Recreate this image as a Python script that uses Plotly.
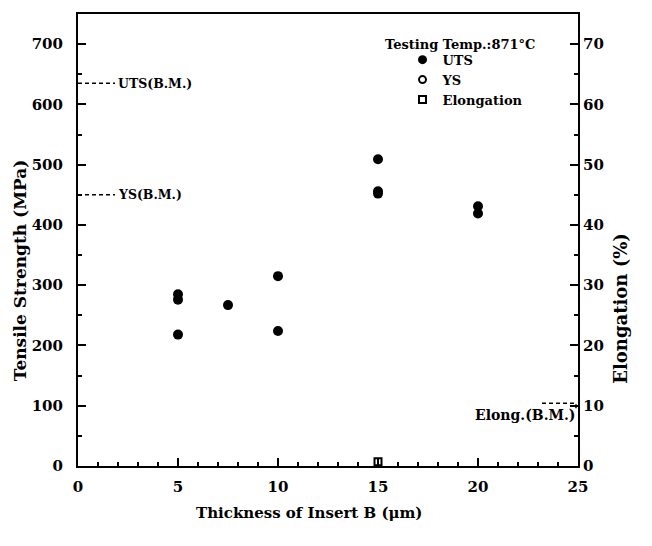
import plotly.graph_objects as go

# ---- data ----
uts_thickness = [5, 5, 7.5, 10, 15, 15, 20]
uts_mpa = [285, 276, 267, 315, 509, 456, 431]
ys_thickness = [5, 10, 15, 20]
ys_mpa = [218, 224, 452, 419]
elong_thickness = [15]
elong_pct = [0.7]

uts_bm = 635
ys_bm = 450
elong_bm = 10.4

x_ticks = [0, 5, 10, 15, 20, 25]
y_ticks = [0, 100, 200, 300, 400, 500, 600, 700]
y2_ticks = [0, 10, 20, 30, 40, 50, 60, 70]

FONT = "DejaVu Serif"
BLACK = "#000000"

fig = go.Figure()

# data (all plotted as filled dots, as they appear in the scan)
fig.add_trace(go.Scatter(x=uts_thickness, y=uts_mpa, mode="markers",
                         marker=dict(symbol="circle", size=10, color=BLACK),
                         showlegend=False, name="UTS"))
fig.add_trace(go.Scatter(x=ys_thickness, y=ys_mpa, mode="markers",
                         marker=dict(symbol="circle", size=10, color=BLACK),
                         showlegend=False, name="YS"))
fig.add_trace(go.Scatter(x=elong_thickness, y=elong_pct, mode="markers", yaxis="y2",
                         marker=dict(symbol="square-open", size=7, color=BLACK,
                                     line=dict(width=2, color=BLACK)),
                         showlegend=False, name="Elongation"))

# legend entries
fig.add_trace(go.Scatter(x=[None], y=[None], mode="markers", name="UTS",
                         marker=dict(symbol="circle", size=9, color=BLACK)))
fig.add_trace(go.Scatter(x=[None], y=[None], mode="markers", name="YS",
                         marker=dict(symbol="circle-open", size=7, color=BLACK,
                                     line=dict(width=2, color=BLACK))))
fig.add_trace(go.Scatter(x=[None], y=[None], mode="markers", name="Elongation",
                         marker=dict(symbol="square-open", size=7, color=BLACK,
                                     line=dict(width=2, color=BLACK))))

# base-metal reference lines
fig.add_trace(go.Scatter(x=[0, 1.85], y=[uts_bm, uts_bm], mode="lines",
                         line=dict(color=BLACK, width=1.5, dash="4px,3px"), showlegend=False))
fig.add_trace(go.Scatter(x=[0, 1.85], y=[ys_bm, ys_bm], mode="lines",
                         line=dict(color=BLACK, width=1.5, dash="4px,3px"), showlegend=False))
fig.add_trace(go.Scatter(x=[23.2, 24.9, 24.9], y=[elong_bm, elong_bm, elong_bm - 0.8],
                         mode="lines", yaxis="y2",
                         line=dict(color=BLACK, width=1.5, dash="4px,3px"), showlegend=False))

annotations = [
    dict(x=1.9, y=uts_bm, xref="x", yref="y", text="UTS(B.M.)", showarrow=False,
         xanchor="left", yanchor="middle", font=dict(family=FONT, size=12.5, color=BLACK, weight="bold")),
    dict(x=1.9, y=ys_bm, xref="x", yref="y", text="YS(B.M.)", showarrow=False,
         xanchor="left", yanchor="middle", font=dict(family=FONT, size=12.5, color=BLACK, weight="bold")),
    dict(x=1.0, y=8.5, xref="paper", yref="y2", text="Elong.(B.M.)", showarrow=False,
         xanchor="right", yanchor="middle", font=dict(family=FONT, size=14, color=BLACK, weight="bold")),
    dict(x=19.1, y=700, xref="x", yref="y", text="Testing Temp.:871°C", showarrow=False,
         xanchor="center", yanchor="middle", font=dict(family=FONT, size=13, color=BLACK, weight="bold")),
    # axis titles
    dict(x=0.461, y=-0.104, xref="paper", yref="paper", text="Thickness of Insert B (μm)",
         showarrow=False, xanchor="center", yanchor="middle",
         font=dict(family=FONT, size=15, color=BLACK, weight="bold")),
    dict(x=-0.116, y=0.433, xref="paper", yref="paper", text="Tensile Strength (MPa)",
         showarrow=False, xanchor="center", yanchor="middle", textangle=-90,
         font=dict(family=FONT, size=17, color=BLACK, weight="bold")),
    dict(x=1.086, y=0.348, xref="paper", yref="paper", text="Elongation (%)",
         showarrow=False, xanchor="center", yanchor="middle", textangle=-90,
         font=dict(family=FONT, size=18, color=BLACK, weight="bold")),
]

tickfont = dict(family=FONT, size=15, color=BLACK, weight="bold")

fig.update_layout(
    width=652, height=546,
    margin=dict(l=70, r=82, t=6, b=88),
    paper_bgcolor="white", plot_bgcolor="white",
    annotations=annotations,
    showlegend=True,
    legend=dict(x=0.649, y=0.932, xanchor="left", yanchor="top",
                bgcolor="rgba(0,0,0,0)", borderwidth=0,
                font=dict(family=FONT, size=13, color=BLACK, weight="bold"),
                tracegroupgap=0, itemsizing="trace"),
    xaxis=dict(range=[0, 25], tickvals=x_ticks, ticktext=[str(v) for v in x_ticks],
               ticks="inside", ticklen=8, tickwidth=1.5, tickcolor=BLACK,
               minor=dict(dtick=1, ticks="inside", ticklen=4, tickwidth=1.5, tickcolor=BLACK),
               showline=True, linewidth=2, linecolor=BLACK, mirror=True,
               showgrid=False, zeroline=False, tickfont=tickfont, automargin=False,
               ticklabelstandoff=6),
    yaxis=dict(range=[0, 750], tickvals=y_ticks, ticktext=[str(v) for v in y_ticks],
               ticks="inside", ticklen=8, tickwidth=1.5, tickcolor=BLACK,
               minor=dict(dtick=50, ticks="inside", ticklen=4, tickwidth=1.5, tickcolor=BLACK),
               showline=True, linewidth=2, linecolor=BLACK, mirror=False,
               showgrid=False, zeroline=False, tickfont=tickfont, automargin=False,
               ticklabelstandoff=10),
    yaxis2=dict(range=[0, 75], tickvals=y2_ticks, ticktext=[str(v) for v in y2_ticks],
                overlaying="y", side="right",
                ticks="inside", ticklen=8, tickwidth=1.5, tickcolor=BLACK,
                minor=dict(dtick=5, ticks="inside", ticklen=4, tickwidth=1.5, tickcolor=BLACK),
                showline=True, linewidth=2, linecolor=BLACK,
                showgrid=False, zeroline=False, tickfont=tickfont, automargin=False),
)

fig.write_html("out.html")
